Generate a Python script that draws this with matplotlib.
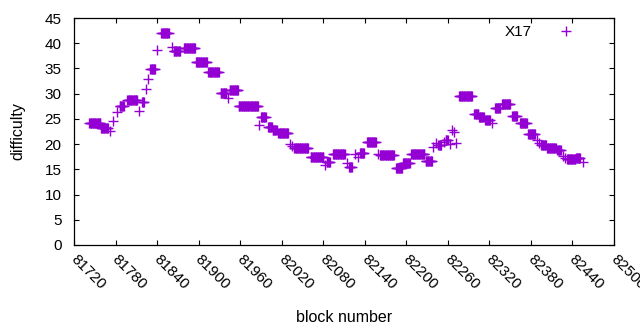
import numpy as np
import matplotlib
matplotlib.use("Agg")
import matplotlib.pyplot as plt
from matplotlib.transforms import ScaledTranslation

plt.rcParams['font.family'] = ['Liberation Sans', 'DejaVu Sans']

# Runs of constant difficulty: first block, last block, difficulty
run_start = [81742, 81759, 81772, 81776, 81782, 81786, 81797, 81814, 81818, 81824,
             81827, 81830, 81840, 81846, 81862, 81864, 81879, 81896, 81914, 81932,
             81942, 81945, 81958, 81987, 81990, 82000, 82007, 82015, 82032, 82035,
             82038, 82062, 82083, 82085, 82094, 82114, 82117, 82126, 82130, 82133,
             82143, 82159, 82162, 82185, 82195, 82207, 82228, 82239, 82243, 82246,
             82254, 82257, 82263, 82266, 82269, 82272, 82276, 82298, 82305, 82314,
             82324, 82328, 82338, 82353, 82364, 82376, 82389, 82392, 82395, 82403,
             82418, 82426, 82429, 82432, 82445, 82455]
run_end = [81758, 81769, 81772, 81776, 81782, 81792, 81811, 81814, 81821, 81824,
           81827, 81837, 81840, 81857, 81862, 81873, 81895, 81912, 81929, 81940,
           81942, 81957, 81986, 81987, 81997, 82006, 82013, 82029, 82032, 82035,
           82058, 82080, 82083, 82090, 82111, 82114, 82121, 82126, 82130, 82139,
           82156, 82159, 82182, 82194, 82205, 82226, 82237, 82239, 82243, 82250,
           82254, 82260, 82263, 82266, 82269, 82272, 82295, 82304, 82312, 82321,
           82324, 82335, 82350, 82360, 82374, 82386, 82389, 82392, 82402, 82416,
           82423, 82426, 82429, 82444, 82451, 82455]
run_value = [24.2, 23.1, 22.6, 24.5, 26.3, 27.6, 28.7, 26.5, 28.4, 31.0,
             33.0, 34.8, 38.6, 42.1, 39.2, 38.5, 39.1, 36.3, 34.3, 30.2,
             29.2, 30.7, 27.6, 23.7, 25.3, 23.4, 22.8, 22.2, 20.1, 19.6,
             19.2, 17.5, 15.9, 16.4, 18.0, 16.2, 15.4, 18.0, 17.5, 18.3,
             20.5, 18.1, 17.8, 15.2, 16.3, 18.0, 16.6, 19.5, 20.3, 19.9,
             20.4, 20.9, 20.1, 22.8, 22.4, 20.2, 29.5, 26.0, 25.4, 24.8,
             24.1, 27.2, 27.9, 25.6, 24.2, 22.0, 20.8, 20.3, 19.8, 19.2,
             18.8, 17.7, 17.3, 17.1, 17.3, 16.5]

x_ticks = list(range(81720, 82501, 60))
y_ticks = list(range(0, 46, 5))

blocks = np.concatenate([np.arange(s, e + 1) for s, e in zip(run_start, run_end)])
diffs = np.concatenate([np.full(e - s + 1, v) for s, e, v in zip(run_start, run_end, run_value)])

fig = plt.figure(figsize=(6.4, 3.3), dpi=100)
ax = fig.add_axes([74 / 640, 85 / 330, 540 / 640, 227 / 330])
color = '#9400d3'
ax.plot(blocks, diffs, linestyle='none', marker='+', markersize=6.5, markeredgewidth=1.0,
        color=color, label='X17')
ax.set_xlim(81720, 82500)
ax.set_ylim(0, 45)
ax.set_xticks(x_ticks)
ax.set_yticks(y_ticks)
ax.set_xticklabels([str(t) for t in x_ticks], rotation=-45, ha='left', va='top',
                   rotation_mode='anchor')
ax.tick_params(direction='in', length=3.5, width=0.8, top=True, right=True,
               labelsize=11, colors='black')
ax.tick_params(axis='x', pad=5)
ax.tick_params(axis='y', pad=9)
offset = ScaledTranslation(4 / 100, 0, fig.dpi_scale_trans)
for lab in ax.get_xticklabels():
    lab.set_transform(lab.get_transform() + offset)
for sp in ax.spines.values():
    sp.set_linewidth(0.9)
ax.set_xlabel('block number', fontsize=11.5, labelpad=13)
ax.set_ylabel('difficulty', fontsize=11.5, labelpad=14)
ax.legend(loc='upper right', frameon=False, markerfirst=False, fontsize=11,
          handlelength=2.0, handletextpad=1.22, bbox_to_anchor=(0.964, 1.028))
fig.savefig('out.png', dpi=100)
